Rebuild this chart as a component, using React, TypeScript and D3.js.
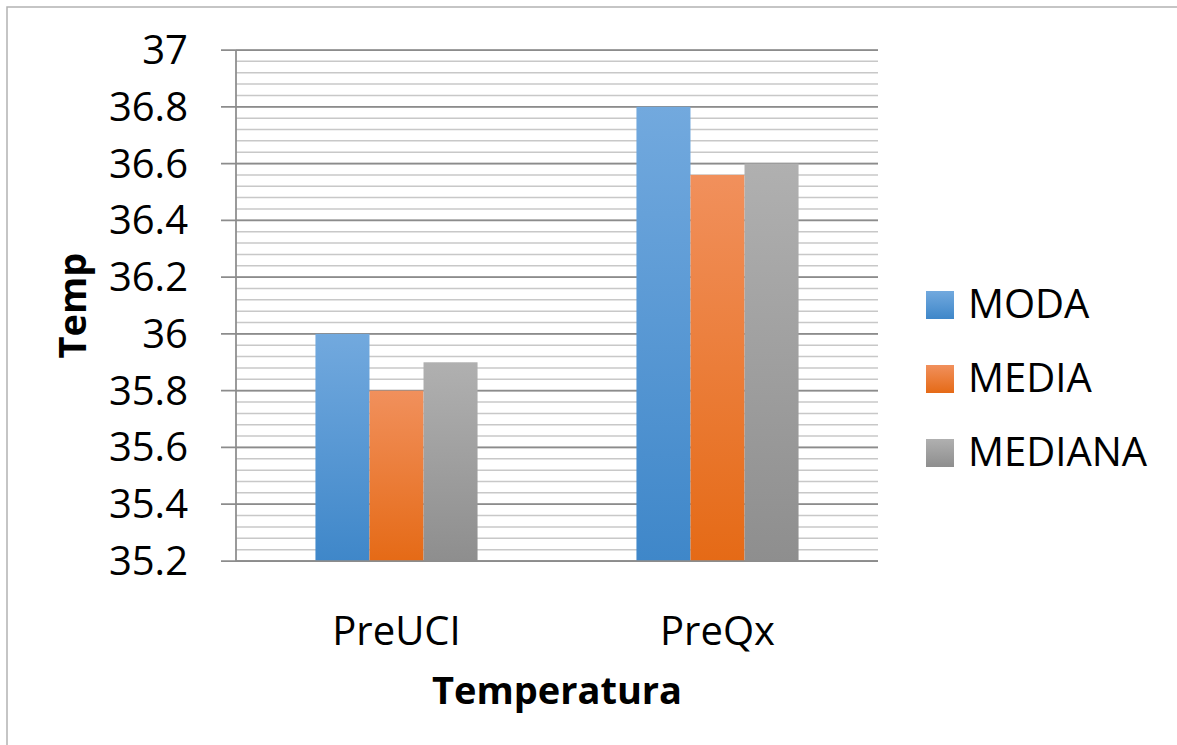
import React, { useEffect, useRef } from "react";
import * as d3 from "d3";

const categories: string[] = ["PreUCI", "PreQx"];
const seriesNames: string[] = ["MODA", "MEDIA", "MEDIANA"];
const modaValues: number[] = [36.0, 36.8];
const mediaValues: number[] = [35.8, 36.56];
const medianaValues: number[] = [35.9, 36.6];
const yTickValues: number[] = [35.2, 35.4, 35.6, 35.8, 36, 36.2, 36.4, 36.6, 36.8, 37];
const yTickLabels: string[] = ["35.2", "35.4", "35.6", "35.8", "36", "36.2", "36.4", "36.6", "36.8", "37"];
const xAxisTitle = "Temperatura";
const yAxisTitle = "Temp";

const seriesValues: number[][] = [modaValues, mediaValues, medianaValues];
const seriesColors: [string, string][] = [
  ["#72a9de", "#3f87c9"],
  ["#f1905c", "#e56a16"],
  ["#b0b0b0", "#8e8e8e"],
];

const W = 1177;
const H = 745;
const FONT = "'Open Sans', 'Noto Sans', sans-serif";

export default function App() {
  const ref = useRef<SVGSVGElement | null>(null);

  useEffect(() => {
    document.body.style.margin = "0";
    const svg = d3.select(ref.current);
    svg.selectAll("*").remove();

    const left = 236, right = 878, top = 50, bottom = 561;
    const y = d3.scaleLinear().domain([35.2, 37]).range([bottom, top]);
    const x = d3.scaleBand<string>().domain(categories).range([left, right]).padding(0);
    const groupW = x.bandwidth() * 0.505;
    const inner = d3.scaleBand<string>().domain(seriesNames).range([0, groupW]).padding(0);

    // frame
    svg.append("rect").attr("x", 7).attr("y", 7).attr("width", 1400).attr("height", 1000)
      .attr("fill", "#fff").attr("stroke", "#b3b3b3").attr("stroke-width", 1.5);

    const defs = svg.append("defs");
    seriesColors.forEach((c, i) => {
      const g = defs.append("linearGradient").attr("id", "grad" + i)
        .attr("x1", 0).attr("y1", 0).attr("x2", 0).attr("y2", 1);
      g.append("stop").attr("offset", "0%").attr("stop-color", c[0]);
      g.append("stop").attr("offset", "100%").attr("stop-color", c[1]);
    });

    // minor gridlines
    const minor = d3.range(0, 46).map((i) => 35.2 + i * 0.04);
    svg.append("g").selectAll("line").data(minor).join("line")
      .attr("x1", left).attr("x2", right)
      .attr("y1", (d) => y(d)).attr("y2", (d) => y(d))
      .attr("stroke", "#c8c8c8").attr("stroke-width", 1.5);

    // major gridlines + ticks
    svg.append("g").selectAll("line").data(yTickValues).join("line")
      .attr("x1", left - 15).attr("x2", right)
      .attr("y1", (d) => y(d)).attr("y2", (d) => y(d))
      .attr("stroke", "#8c8c8c").attr("stroke-width", 1.75);

    // bars
    categories.forEach((cat, ci) => {
      const start = (x(cat) as number) + (x.bandwidth() - groupW) / 2;
      seriesNames.forEach((s, si) => {
        const v = seriesValues[si][ci];
        svg.append("rect")
          .attr("x", start + (inner(s) as number))
          .attr("y", y(v))
          .attr("width", inner.bandwidth())
          .attr("height", y(35.2) - y(v))
          .attr("fill", `url(#grad${si})`);
      });
    });

    // axis line
    svg.append("line").attr("x1", left).attr("x2", left).attr("y1", top).attr("y2", bottom)
      .attr("stroke", "#8c8c8c").attr("stroke-width", 1.75);
    svg.append("line").attr("x1", left).attr("x2", right).attr("y1", bottom).attr("y2", bottom)
      .attr("stroke", "#8c8c8c").attr("stroke-width", 1.75);

    // y tick labels
    svg.append("g").selectAll("text").data(yTickValues).join("text")
      .attr("x", 188).attr("y", (d) => y(d) + 14)
      .attr("text-anchor", "end")
      .attr("font-family", FONT).attr("font-size", 40).attr("fill", "#000")
      .text((d, i) => yTickLabels[i]);

    // x labels
    svg.append("g").selectAll("text").data(categories).join("text")
      .attr("x", (d) => (x(d) as number) + x.bandwidth() / 2)
      .attr("y", 645)
      .attr("text-anchor", "middle")
      .attr("font-family", FONT).attr("font-size", 40).attr("fill", "#000")
      .text((d) => d);

    // axis titles
    svg.append("text").attr("x", 557).attr("y", 704).attr("text-anchor", "middle")
      .attr("font-family", FONT).attr("font-size", 38).attr("font-weight", "bold").attr("fill", "#000")
      .text(xAxisTitle);
    svg.append("text").attr("transform", `translate(86, ${(top + bottom) / 2}) rotate(-90)`)
      .attr("text-anchor", "middle")
      .attr("font-family", FONT).attr("font-size", 38).attr("font-weight", "bold").attr("fill", "#000")
      .text(yAxisTitle);

    // legend
    seriesNames.forEach((s, i) => {
      const yy = 291 + i * 74;
      svg.append("rect").attr("x", 926).attr("y", yy).attr("width", 28).attr("height", 28)
        .attr("fill", `url(#grad${i})`);
      svg.append("text").attr("x", 968).attr("y", yy + 27)
        .attr("font-family", FONT).attr("font-size", 40).attr("fill", "#000")
        .text(s);
    });
  }, []);

  return (
    <svg ref={ref} width={W} height={H}
      style={{ display: "block", position: "absolute", left: 0, top: 0, background: "#fff" }} />
  );
}
